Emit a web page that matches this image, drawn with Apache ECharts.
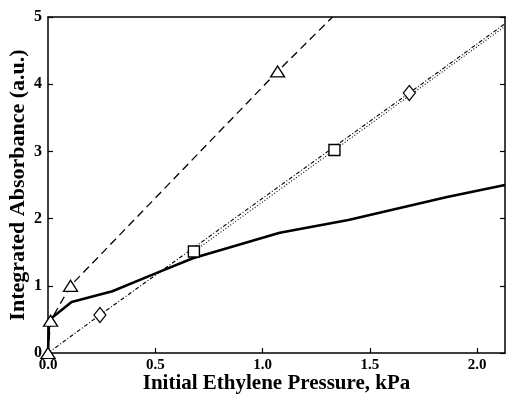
<!DOCTYPE html>
<html>
<head>
<meta charset="utf-8">
<script src="https://cdn.jsdelivr.net/npm/echarts@6/dist/echarts.min.js"></script>
<style>html,body{margin:0;padding:0;background:#fff}#c{width:507px;height:396px}</style>
</head>
<body>
<div id="c"></div>
<script>
// Triangles (dashed line); last point is the line's end at the frame, no marker
const triPressure = [0, 0.012, 0.105, 1.07, 1.326];
const triAbs      = [0, 0.48, 1.0, 4.19, 5.0];
const triMarked   = [true, true, true, true, false];
// Diamonds (dash-dot line); last point is line end
const diaPressure = [0, 0.242, 1.684, 2.13];
const diaAbs      = [0, 0.565, 3.87, 4.9];
const diaMarked   = [false, true, true, false];
// Squares (dotted line); last point is line end
const sqPressure  = [0.68, 1.335, 2.13];
const sqAbs       = [1.51, 3.02, 4.86];
const sqMarked    = [true, true, false];
// Solid curve, no markers
const solPressure = [0, 0.005, 0.11, 0.3, 0.49, 0.675, 1.08, 1.40, 1.86, 2.13];
const solAbs      = [0, 0.49, 0.76, 0.92, 1.17, 1.41, 1.79, 1.98, 2.32, 2.5];

const xTicks = [0, 0.5, 1.0, 1.5, 2.0];
const yTicks = [0, 1, 2, 3, 4, 5];

function pts(xs, ys) { return xs.map((x, i) => [x, ys[i]]); }
function marked(xs, ys, m) {
  return xs.map((x, i) => ({ value: [x, ys[i]], symbol: m[i] ? undefined : 'none' }));
}

const font = '"Liberation Serif", serif';
const chart = echarts.init(document.getElementById('c'), null, { renderer: 'canvas' });
const axisLine = { show: true, onZero: false, lineStyle: { color: '#000', width: 1.5 } };
const tick = { show: true, inside: true, length: 5, lineStyle: { color: '#000', width: 1.2 } };
chart.setOption({
  animation: false,
  backgroundColor: '#fff',
  grid: { left: 48, right: 2, top: 17, bottom: 43, containLabel: false, outerBoundsMode: 'none' },
  xAxis: [{
    type: 'value', min: 0, max: 2.13, interval: 0.5,
    name: 'Initial Ethylene Pressure, kPa', nameLocation: 'middle', nameGap: 20, nameMoveOverlap: false,
    nameTextStyle: { fontFamily: font, fontWeight: 'bold', fontSize: 21, color: '#000' },
    axisLine: axisLine, axisTick: tick,
    axisLabel: { showMaxLabel: false, margin: 5, fontFamily: font, fontWeight: 'bold', fontSize: 15, color: '#000',
      formatter: v => xTicks.some(t => Math.abs(t - v) < 1e-6) ? v.toFixed(1) : '' },
    splitLine: { show: false }
  }, {
    type: 'value', position: 'top', min: 0, max: 2.13,
    axisLine: axisLine, axisTick: { show: false }, axisLabel: { show: false }, splitLine: { show: false }
  }],
  yAxis: [{
    type: 'value', min: 0, max: 5, interval: 1,
    name: 'Integrated Absorbance (a.u.)', nameLocation: 'middle', nameGap: 19, nameMoveOverlap: false,
    nameTextStyle: { fontFamily: font, fontWeight: 'bold', fontSize: 22, color: '#000' },
    axisLine: axisLine, axisTick: tick,
    axisLabel: { margin: 6, fontFamily: font, fontWeight: 'bold', fontSize: 16, color: '#000',
      formatter: v => yTicks.includes(v) ? String(v) : '' },
    splitLine: { show: false }
  }, {
    type: 'value', position: 'right', min: 0, max: 5, interval: 1,
    axisLine: axisLine, axisTick: tick,
    axisLabel: { show: false }, splitLine: { show: false }
  }],
  series: [
    { type: 'line', data: pts(solPressure, solAbs), symbol: 'none', smooth: false,
      lineStyle: { color: '#000', width: 2.6 }, z: 3 },
    { type: 'line', data: marked(diaPressure, diaAbs, diaMarked), symbol: 'diamond', symbolSize: [12, 15],
      itemStyle: { color: '#fff', borderColor: '#000', borderWidth: 1.2 },
      lineStyle: { color: '#000', width: 1.1, type: [4, 2, 1, 2] }, z: 4 },
    { type: 'line', data: marked(sqPressure, sqAbs, sqMarked), symbol: 'rect', symbolSize: 11,
      itemStyle: { color: '#fff', borderColor: '#000', borderWidth: 1.4 },
      lineStyle: { color: '#000', width: 1.1, type: [1, 2] }, z: 4 },
    { type: 'line', data: marked(triPressure, triAbs, triMarked), symbol: 'triangle', symbolSize: [14, 11],
      itemStyle: { color: '#fff', borderColor: '#000', borderWidth: 1.3 },
      lineStyle: { color: '#000', width: 1.3, type: [8, 5] }, z: 5, clip: false }
  ]
});
</script>
</body>
</html>
